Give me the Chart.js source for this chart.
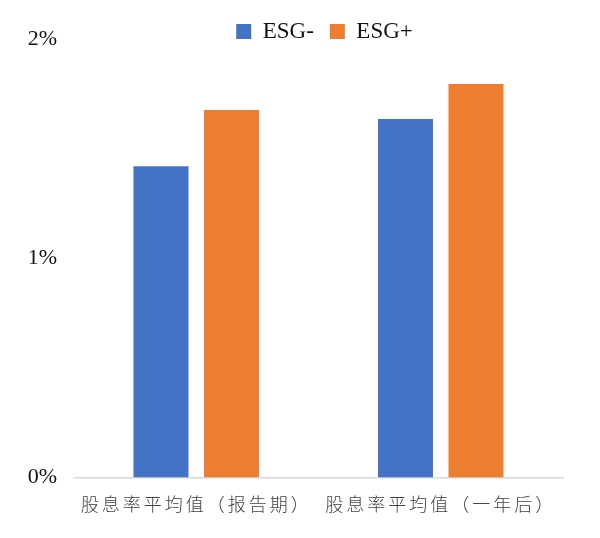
<!DOCTYPE html>
<html>
<head>
<meta charset="utf-8">
<script src="https://cdn.jsdelivr.net/npm/chart.js@4/dist/chart.umd.min.js"></script>
<style>
  html, body { margin: 0; padding: 0; background: #fff; }
  #wrap { width: 600px; height: 538px; }
</style>
</head>
<body>
<div id="wrap"><canvas id="divChart"></canvas></div>
<script>
// data (percent)
const categories = ["股息率平均值（报告期）", "股息率平均值（一年后）"]
const esgMinus = [1.42, 1.635]
const esgPlus = [1.676, 1.795]
const yTicks = [0, 1, 2]

// legend sits a bit right of centre and overlaps the top of the plot;
// category labels are drawn letter-spaced like the original
const tweaks = {
  id: "tweaks",
  afterLayout(chart) {
    const lg = chart.legend
    if (lg) {
      lg.left += 43
      lg.right += 43
      lg.bottom = lg.top + 60
    }
    const xs = chart.scales.x
    if (xs && !xs._spaced) {
      const orig = xs.drawLabels.bind(xs)
      xs.drawLabels = (area) => {
        chart.ctx.save()
        chart.ctx.letterSpacing = "3px"
        orig(area)
        chart.ctx.restore()
      }
      xs._spaced = true
    }
  },
}

const ctx = document.getElementById("divChart").getContext("2d")

new Chart(ctx, {
  type: "bar",
  data: {
    labels: categories,
    datasets: [
      {
        label: "ESG-",
        data: esgMinus,
        backgroundColor: "#4472C4",
        categoryPercentage: 0.577,
        barPercentage: 0.78,
      },
      {
        label: "ESG+",
        data: esgPlus,
        backgroundColor: "#ED7D31",
        categoryPercentage: 0.577,
        barPercentage: 0.78,
      },
    ],
  },
  options: {
    responsive: true,
    maintainAspectRatio: false,
    animation: false,
    layout: {
      padding: { top: 4, right: 37, bottom: 7, left: 0 },
    },
    scales: {
      x: {
        grid: { display: false, drawTicks: false },
        border: { display: true, color: "#d9d9d9", width: 1.5 },
        ticks: {
          color: "#404040",
          padding: 16,
          maxRotation: 0,
          autoSkip: false,
          font: { family: "'Noto Sans CJK TC'", size: 18, weight: 300 },
        },
      },
      y: {
        min: 0,
        max: 2,
        grid: { display: false, drawTicks: false },
        border: { display: false },
        afterBuildTicks: (scale) => {
          scale.ticks = yTicks.map((v) => ({ value: v }))
        },
        afterFit: (scale) => {
          scale.width = 74
        },
        ticks: {
          color: "#111",
          padding: 17,
          font: { family: "'Liberation Serif'", size: 22 },
          callback: (v) => v + "%",
        },
      },
    },
    plugins: {
      legend: {
        position: "top",
        maxHeight: 35,
        labels: {
          color: "#111",
          boxWidth: 15,
          boxHeight: 15,
          padding: 16,
          font: { family: "'Liberation Serif'", size: 23 },
        },
      },
      tooltip: { enabled: false },
    },
  },
  plugins: [tweaks],
})
</script>
</body>
</html>
